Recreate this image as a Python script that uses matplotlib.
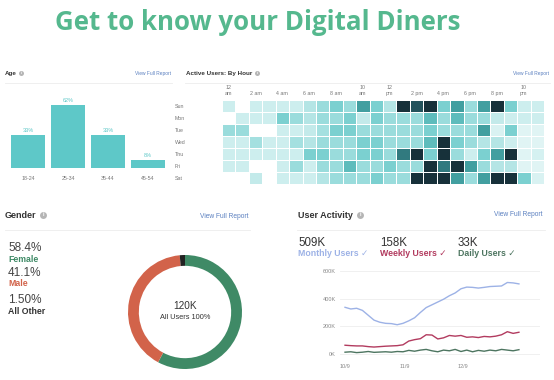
import numpy as np
import matplotlib
matplotlib.use('Agg')
import matplotlib.pyplot as plt
from matplotlib.colors import LinearSegmentedColormap

W, H = 554, 380

# Age panel
age_groups = ['18-24', '25-34', '35-44', '45-54']
age_pct = [33, 62, 33, 8]

# Active users heatmap, rows Sun..Sat, 24 hours (0 = no activity)
days = ['Sun', 'Mon', 'Tue', 'Wed', 'Thu', 'Fri', 'Sat']
hour_labels = ['12\nam', '2 am', '4 am', '6 am', '8 am', '10\nam',
               '12\npm', '2 pm', '4 pm', '6 pm', '8 pm', '10\npm']
activity = [
    [1, 0, 1, 1, 1, 1, 1.5, 2, 2.5, 2, 3.5, 2.5, 1.5, 5, 4.5, 5, 2.5, 3.5, 2, 3.5, 5, 2.5, 1, 1],
    [0, 1, 1, 1, 2.5, 2, 1.5, 2, 2, 2.5, 1.2, 2.5, 2, 2, 2, 3, 2, 3, 2, 2, 1.2, 1, 1, 1],
    [2, 2, 0, 0, 1, 1, 1.2, 1.8, 2.5, 2.5, 2, 2, 2, 2, 2, 2.5, 2, 2, 2, 3.5, 0.7, 2.5, 0.5, 0.5],
    [1, 1, 1.8, 1, 1, 1.8, 1.5, 2, 2, 2, 2.5, 2.5, 2, 2, 2, 3, 5, 2.5, 2, 1.5, 1.5, 1, 0.5, 0.5],
    [1, 1, 1, 1, 1, 1, 2.5, 2.5, 2, 2, 2.5, 2.5, 2, 4, 5, 2.5, 5, 2, 1, 2.5, 3.5, 5, 0.5, 0.8],
    [1, 1, 0, 0, 1, 2, 1, 2, 2, 3, 2, 2, 2.5, 2, 2, 5, 4, 5, 3.5, 2, 1.5, 1.5, 0.5, 0.5],
    [0, 0, 1.2, 0, 1, 1, 1, 1.5, 2, 2, 2, 2.5, 2, 2, 5, 5, 5, 3.5, 2, 3.5, 5, 5, 2.5, 0.7],
]

# Gender panel
gender_labels = ['Female', 'Male', 'All Other']
gender_pct = [58.4, 41.1, 1.5]
gender_text = ['58.4%', '41.1%', '1.50%']
gender_colors = ['#3f8a66', '#d2634a', '#222222']

# User activity (thousands), sampled every 3 days from 10/9
act_days = list(range(0, 93, 3))
monthly = [337, 325, 330, 315, 280, 245, 230, 222, 220, 212, 222, 240, 262, 300, 335, 355,
           375, 395, 420, 440, 470, 482, 480, 475, 480, 486, 488, 490, 515, 512, 505]
weekly = [65, 62, 60, 60, 55, 52, 55, 58, 60, 62, 68, 95, 105, 112, 140, 138,
          110, 118, 135, 130, 135, 122, 125, 120, 128, 125, 130, 140, 162, 150, 158]
daily = [15, 18, 12, 15, 20, 14, 16, 18, 15, 20, 18, 28, 22, 30, 35, 25,
         18, 30, 25, 35, 20, 30, 18, 28, 22, 30, 25, 35, 30, 25, 33]
date_ticks = [0, 31, 61]
date_labels = ['10/9', '11/9', '12/9']


def box(x0, y0, x1, y1):
    return [x0 / W, 1 - y1 / H, (x1 - x0) / W, (y1 - y0) / H]


def txt(x, y, s, **kw):
    kw.setdefault('va', 'center')
    fig.text(x / W, 1 - y / H, s, **kw)


def hline(x0, x1, y):
    fig.add_artist(plt.Line2D([x0 / W, x1 / W], [1 - y / H, 1 - y / H],
                              color='#ececec', lw=0.6))


def info(x, y, size):
    # small grey "i" badge next to the panel headers
    fig.add_artist(plt.Line2D([x / W], [1 - y / H], marker='o', markersize=size,
                              color='#b5b5b5', mec='none'))
    txt(x, y, 'i', ha='center', fontsize=size * 0.75, color='white', fontweight='bold')


plt.rcParams['font.family'] = ['Liberation Sans', 'DejaVu Sans']
fig = plt.figure(figsize=(W / 100, H / 100), dpi=100)
fig.patch.set_facecolor('white')

txt(258, 22, 'Get to know your Digital Diners', ha='center', fontsize=18.6,
    fontweight='bold', color='#55b88e', family='Open Sans')

link = '#5b80c0'
grey = '#333333'

# ---- Age ----
txt(5, 73, 'Age', fontsize=4.5, fontweight='bold', color=grey)
info(21, 73, 3.6)
txt(171, 73, 'View Full Report', fontsize=3.5, color=link, ha='right')
hline(5, 172, 83)
ax = fig.add_axes(box(8, 93, 168, 168))
x = np.arange(len(age_groups))
ax.bar(x, age_pct, width=0.85, color='#5ec8c8')
for i, v in enumerate(age_pct):
    ax.text(i, v + 2, f'{v}%', ha='center', va='bottom', fontsize=4, color='#5ec8c8')
ax.set_xlim(-0.5, 3.5)
ax.set_ylim(0, 74)
ax.set_xticks(x)
ax.set_xticklabels(age_groups, fontsize=3.8, color='#777777')
ax.tick_params(length=0, pad=6)
ax.set_yticks([])
for s in ax.spines.values():
    s.set_visible(False)

# ---- Heatmap ----
txt(186, 73, 'Active Users: By Hour', fontsize=4.5, fontweight='bold', color=grey)
info(257, 73, 3.6)
txt(549, 73, 'View Full Report', fontsize=3.5, color=link, ha='right')
hline(185, 550, 83)
cmap = LinearSegmentedColormap.from_list('teal', [
    (0.0, '#ffffff'), (0.08, '#e3f5f5'), (0.2, '#cdeeee'), (0.4, '#9adcdc'),
    (0.55, '#6ccaca'), (0.72, '#3d9a9b'), (0.86, '#28626a'), (1.0, '#17313a')])
ax = fig.add_axes(box(222, 100, 544, 184))
ax.pcolormesh(np.array(activity), cmap=cmap, vmin=0, vmax=5,
              edgecolors='white', linewidth=0.5)
ax.set_xlim(0, 24)
ax.set_ylim(7, 0)
ax.set_yticks(np.arange(7) + 0.5)
ax.set_yticklabels(days, fontsize=3.8, color='#777777', ha='left')
ax.tick_params(axis='y', length=0, pad=34)
ax.xaxis.tick_top()
ax.set_xticks(np.arange(0, 24, 2) + 0.5)
ax.set_xticklabels(hour_labels, fontsize=3.8, color='#777777', linespacing=1.1)
ax.tick_params(axis='x', length=0, pad=3)
for s in ax.spines.values():
    s.set_visible(False)

# ---- Gender ----
txt(5, 215, 'Gender', fontsize=6.5, fontweight='bold', color=grey)
info(43, 215, 5)
txt(248, 216, 'View Full Report', fontsize=4.8, color=link, ha='right')
hline(5, 250, 230)
ys = [248, 273, 300]
for i in range(3):
    txt(8, ys[i], gender_text[i], fontsize=8.5, color='#444444')
    txt(8, ys[i] + 11, gender_labels[i], fontsize=6.3, fontweight='bold',
        color=gender_colors[i] if i < 2 else grey)
ax = fig.add_axes(box(128, 255, 242, 369))
ax.pie(gender_pct, colors=gender_colors, startangle=90, counterclock=False,
       wedgeprops=dict(width=0.19, edgecolor='none'))
ax.text(0, 0.1, '120K', ha='center', va='center', fontsize=7.2, color=grey)
ax.text(0, -0.1, 'All Users 100%', ha='center', va='center', fontsize=5.3, color=grey)
ax.set_xlim(-1.0, 1.0)
ax.set_ylim(-1.0, 1.0)
ax.set_aspect('equal')

# ---- User Activity ----
txt(298, 215, 'User Activity', fontsize=6.5, fontweight='bold', color=grey)
info(360, 215, 5)
txt(542, 215, 'View Full Report', fontsize=4.8, color=link, ha='right')
hline(297, 545, 230)
line_colors = ['#9db2e6', '#b23b5f', '#4d7560']
stats = [('509K', 'Monthly Users ✓', 298), ('158K', 'Weekly Users ✓', 380),
         ('33K', 'Daily Users ✓', 458)]
for (v, lab, xx), c in zip(stats, line_colors):
    txt(xx, 243, v, fontsize=8.3, color=grey)
    txt(xx, 254, lab, fontsize=6.3, color=c, fontweight='bold')

ax = fig.add_axes(box(340, 262, 540, 360))
for series, c in zip([monthly, weekly, daily], line_colors):
    ax.plot(act_days, series, color=c, lw=1.0)
ax.set_xlim(-2.6, 100.9)
ax.set_ylim(-41, 662)
ax.set_yticks([0, 200, 400, 600])
ax.set_yticklabels(['0K', '200K', '400K', '600K'], fontsize=4, color='#888888')
ax.set_xticks(date_ticks)
ax.set_xticklabels(date_labels, fontsize=4, color='#888888')
ax.tick_params(length=0, pad=3)
ax.grid(axis='y', color='#eeeeee', lw=0.6)
ax.set_axisbelow(True)
for s in ax.spines.values():
    s.set_visible(False)

fig.savefig('out.png', dpi=100)
